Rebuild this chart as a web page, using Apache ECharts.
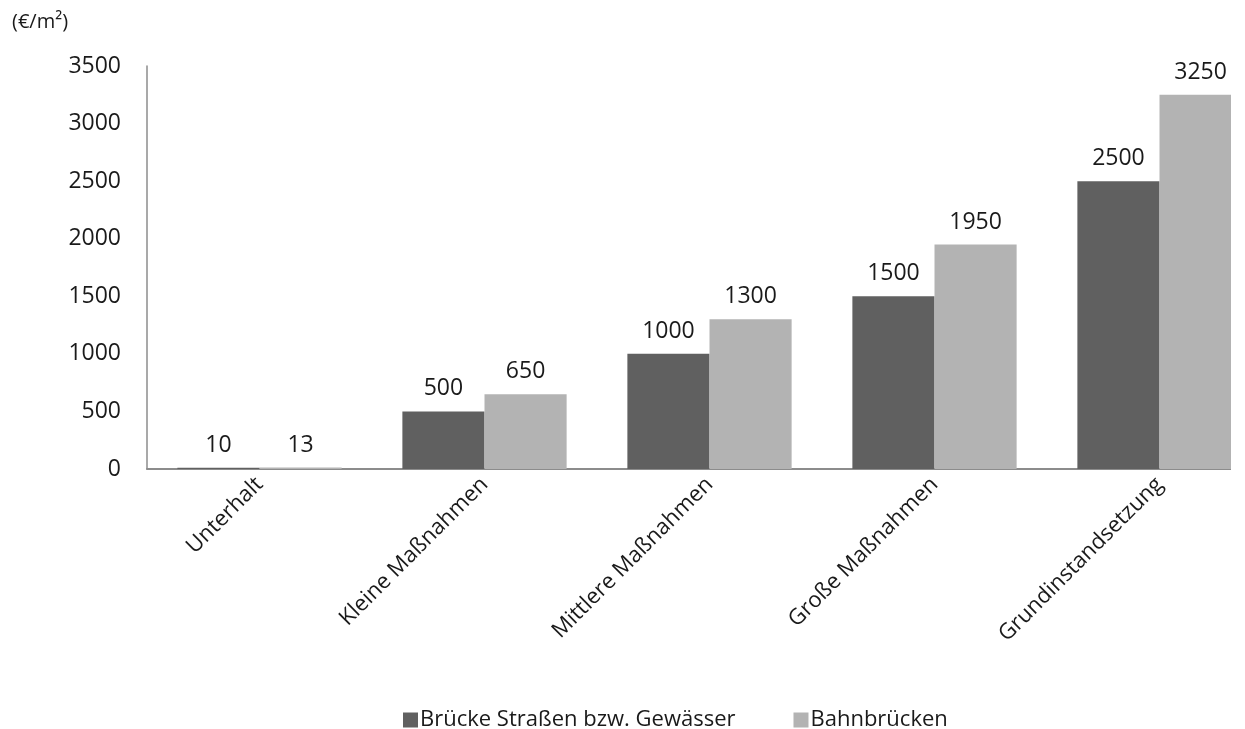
<!DOCTYPE html>
<html>
<head>
<meta charset="utf-8">
<script src="https://cdn.jsdelivr.net/npm/echarts@6/dist/echarts.min.js"></script>
<style>
  html, body { margin: 0; padding: 0; background: #fff; overflow: hidden; }
  #chart { width: 1231px; height: 729px; }
</style>
</head>
<body>
<div id="chart"></div>
<script>
// Cost per square metre of bridge surface by type of measure
const categories = ['Unterhalt', 'Kleine Maßnahmen', 'Mittlere Maßnahmen', 'Große Maßnahmen', 'Grundinstandsetzung'];
const seriesNames = ['Brücke Straßen bzw. Gewässer', 'Bahnbrücken'];
const roadBridges = [10, 500, 1000, 1500, 2500];
const railBridges = [13, 650, 1300, 1950, 3250];
const unitLabel = '(€/m²)';

const FONT = '"Open Sans", sans-serif';
const TEXT = '#1a1a1a';
const chart = echarts.init(document.getElementById('chart'), null, { renderer: 'canvas' });

const labelStyle = {
  show: true,
  position: 'top',
  distance: 11,
  color: TEXT,
  fontSize: 23,
  fontFamily: FONT
};

chart.setOption({
  animation: false,
  backgroundColor: '#fff',
  title: {
    text: unitLabel,
    left: 7,
    top: 7,
    textStyle: { fontSize: 20, fontWeight: 'normal', color: TEXT, fontFamily: FONT }
  },
  legend: {
    left: 398,
    top: 704,
    itemWidth: 15,
    itemHeight: 15,
    itemGap: 58,
    icon: 'rect',
    textStyle: { fontSize: 22, color: TEXT, fontFamily: FONT, padding: [0, 0, 0, -3] },
    data: seriesNames
  },
  grid: {
    left: 147, top: 66, width: 1125, height: 403,
    containLabel: false,
    outerBoundsMode: 'none'
  },
  xAxis: {
    type: 'category',
    data: categories,
    axisLine: { show: true, lineStyle: { color: '#8c8c8c', width: 2 } },
    axisTick: { show: false },
    axisLabel: {
      rotate: 45,
      margin: 12,
      interval: 0,
      color: TEXT,
      fontSize: 22,
      fontFamily: FONT
    }
  },
  yAxis: {
    type: 'value',
    min: 0,
    max: 3500,
    interval: 500,
    splitLine: { show: false },
    axisLine: { show: true, lineStyle: { color: '#8c8c8c', width: 1.5 } },
    axisTick: { show: false },
    axisLabel: {
      margin: 26,
      color: TEXT,
      fontSize: 23,
      fontFamily: FONT,
      formatter: (v) => String(v)
    }
  },
  series: [
    {
      name: seriesNames[0],
      type: 'bar',
      data: roadBridges,
      barGap: '0%',
      barCategoryGap: '27%',
      itemStyle: { color: '#606060' },
      label: labelStyle
    },
    {
      name: seriesNames[1],
      type: 'bar',
      data: railBridges,
      barGap: '0%',
      barCategoryGap: '27%',
      itemStyle: { color: '#b3b3b3' },
      label: labelStyle
    }
  ]
});
</script>
</body>
</html>
